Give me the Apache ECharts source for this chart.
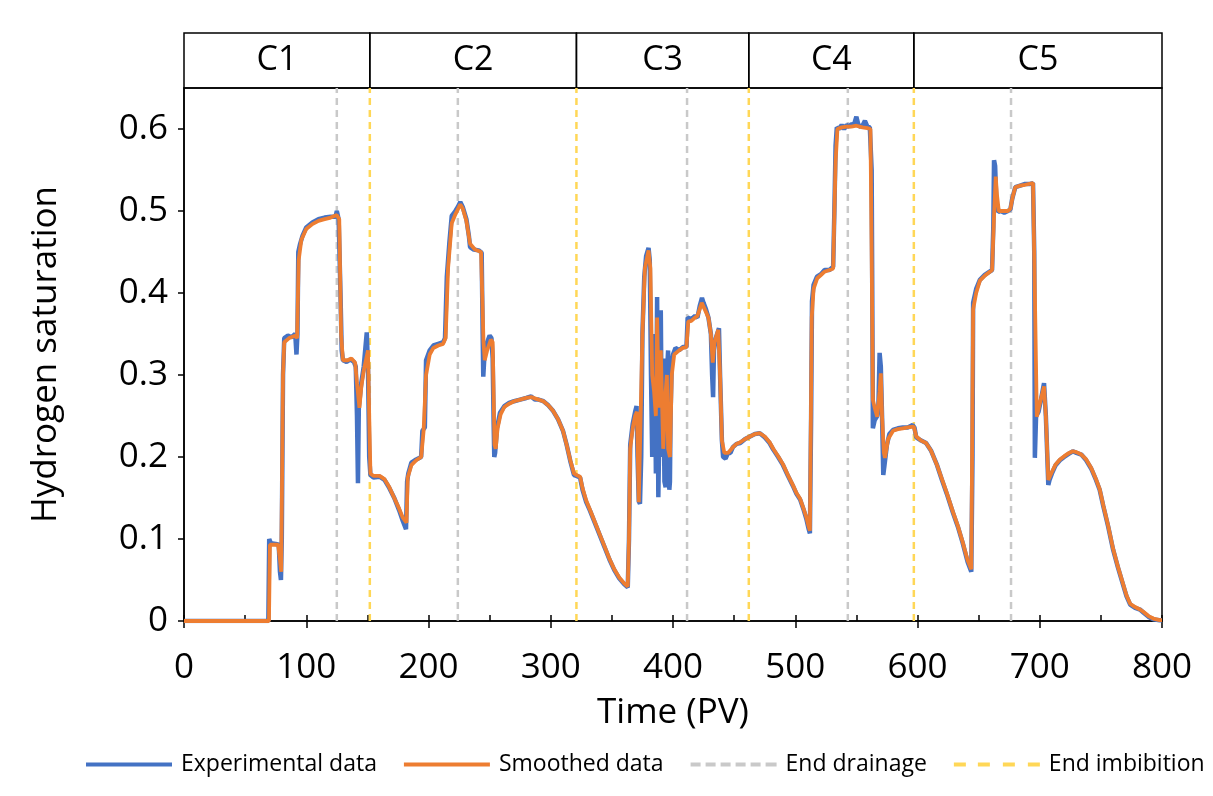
<!DOCTYPE html>
<html>
<head>
<meta charset="utf-8">
<script src="https://cdn.jsdelivr.net/npm/echarts@6/dist/echarts.min.js"></script>
<style>
html,body{margin:0;padding:0;background:#fff;}
#chart{width:1213px;height:796px;}
</style>
</head>
<body>
<div id="chart"></div>
<script>
// ---------- DATA ----------
const cycleNames = ['C1', 'C2', 'C3', 'C4', 'C5'];
const cycleBounds = [0, 152, 321, 462, 597, 800];
const endDrainage = [125, 224, 411.5, 543, 676.5];
const endImbibition = [152, 321, 462, 597];

// Experimental data: [time (PV), hydrogen saturation]
const experimental = [
  [0,0],[69,0],[69.7,0.10],[71,0.095],[75,0.094],[77.5,0.093],[78.5,0.06],[79.3,0.05],[80,0.1],[81,0.3],
  [82,0.345],[85,0.348],[88,0.346],[91,0.35],[92,0.325],[92.8,0.35],[93.5,0.45],[95,0.46],[97,0.47],[100,0.48],
  [105,0.486],[110,0.49],[115,0.492],[120,0.493],[124,0.493],[125,0.50],[126.5,0.49],[128,0.40],[129,0.33],[130,0.318],
  [133,0.316],[136,0.319],[139,0.316],[140.5,0.31],[141.5,0.25],[142.3,0.168],[143,0.26],[145,0.29],[147,0.31],[149.5,0.352],
  [150.5,0.31],[151.5,0.20],[152.5,0.178],[155,0.175],[160,0.176],[164,0.172],[168,0.162],[172,0.15],[176,0.135],[179,0.122],
  [181.6,0.112],[182.5,0.17],[183.5,0.18],[186,0.193],[190,0.197],[194,0.2],[195,0.232],[197,0.236],[198,0.318],[201,0.33],
  [204,0.336],[208,0.338],[212,0.34],[213.5,0.345],[215,0.42],[217,0.46],[219,0.494],[222,0.5],[224,0.505],[226,0.511],
  [228,0.505],[231,0.49],[233,0.47],[234,0.456],[237,0.453],[241,0.452],[243.5,0.449],[244.3,0.35],[244.8,0.298],[246,0.33],
  [248,0.34],[250,0.348],[251.5,0.345],[252.5,0.32],[253.3,0.24],[253.8,0.2],[254.5,0.205],[256,0.235],[258.5,0.254],[262,0.262],
  [266,0.266],[270,0.268],[275,0.27],[280,0.272],[284,0.274],[287,0.27],[290,0.27],[294,0.268],[298,0.263],[302,0.256],
  [306,0.246],[310,0.232],[313,0.215],[316,0.195],[319,0.178],[321,0.177],[324,0.175],[326,0.16],[329,0.145],[332,0.135],
  [336,0.12],[340,0.105],[344,0.09],[348,0.075],[352,0.062],[356,0.052],[360,0.045],[363,0.041],[364,0.1],[365,0.215],
  [367,0.24],[369,0.255],[370.2,0.262],[371,0.2],[372,0.146],[373,0.143],[374,0.2],[375,0.35],[376.5,0.42],[378,0.445],
  [380,0.455],[381,0.44],[382,0.3],[383,0.2],[384,0.28],[385,0.35],[386,0.18],[387,0.395],[388,0.151],[389,0.25],
  [390,0.379],[391,0.2],[392,0.32],[393,0.17],[394,0.163],[395,0.3],[396,0.33],[397,0.16],[397.5,0.17],[398,0.25],
  [399,0.315],[400,0.325],[402,0.333],[405,0.33],[408,0.334],[411,0.334],[412,0.37],[415,0.368],[418,0.372],[420,0.37],
  [422,0.385],[423.7,0.394],[425,0.388],[427,0.38],[429,0.37],[431,0.35],[432,0.3],[432.8,0.273],[433.5,0.33],[435,0.345],
  [437.6,0.357],[438.5,0.3],[440,0.22],[441,0.2],[443,0.198],[445,0.205],[447,0.205],[449,0.212],[452,0.216],[455,0.217],
  [459,0.222],[463,0.225],[467,0.228],[471,0.229],[475,0.224],[479,0.217],[482,0.209],[486,0.2],[490,0.19],[494,0.177],
  [498,0.165],[501,0.155],[504,0.148],[507,0.135],[509,0.125],[511,0.112],[512,0.107],[513,0.25],[513.7,0.39],[515,0.41],
  [517.8,0.42],[521,0.423],[524,0.428],[528,0.428],[531,0.432],[532,0.5],[533,0.58],[534,0.602],[536,0.6],[538,0.605],
  [540,0.6],[542,0.605],[544,0.603],[546,0.606],[548,0.605],[550,0.615],[552,0.603],[555,0.604],[557,0.61],[559,0.603],
  [561,0.602],[562.5,0.55],[563,0.4],[563.5,0.235],[565,0.245],[567,0.25],[568,0.26],[569,0.327],[570,0.31],[571,0.25],
  [572,0.178],[573,0.19],[575,0.215],[577,0.228],[580,0.233],[584,0.235],[588,0.236],[592,0.236],[596,0.239],[597.5,0.236],
  [599,0.224],[603,0.22],[607,0.217],[611,0.208],[616,0.19],[620,0.172],[624,0.155],[629,0.132],[633,0.115],[637,0.095],
  [641,0.072],[644,0.06],[645,0.2],[645.5,0.388],[648,0.405],[651,0.416],[655,0.422],[659,0.426],[661,0.428],[662,0.48],
  [662.6,0.562],[663.5,0.555],[664.5,0.51],[666,0.499],[668,0.5],[671,0.498],[674,0.5],[676,0.502],[677.5,0.515],[680,0.529],
  [684,0.531],[688,0.533],[692,0.533],[694.5,0.534],[695.5,0.45],[696,0.199],[697,0.25],[699,0.255],[701,0.27],[703.5,0.29],
  [705,0.25],[707,0.166],[708,0.172],[710,0.18],[713,0.19],[716.5,0.196],[720,0.2],[724,0.204],[727,0.207],[730,0.205],
  [734,0.203],[738,0.196],[742,0.186],[746,0.172],[749,0.16],[752,0.14],[756,0.115],[760,0.087],[764,0.065],[768,0.045],
  [771,0.03],[774,0.02],[778,0.016],[782,0.014],[785,0.01],[789,0.005],[793,0.002],[798,0.001],[800,0.001]
];

// Smoothed data: [time (PV), hydrogen saturation]
const smoothed = [
  [0,0],[69.5,0],[70.3,0.093],[77,0.093],[78.5,0.075],[79.5,0.06],[81,0.3],[82,0.34],[86,0.345],[91,0.348],
  [92.5,0.345],[93.8,0.44],[96,0.465],[100,0.478],[105,0.484],[110,0.488],[115,0.49],[120,0.492],[125,0.495],[127,0.49],
  [128.5,0.35],[130,0.318],[134,0.318],[137,0.32],[140,0.315],[141.5,0.29],[143.5,0.26],[145,0.285],[147,0.305],[150.5,0.33],
  [151.5,0.25],[152.5,0.18],[155,0.177],[160,0.177],[164,0.173],[168,0.163],[172,0.15],[176,0.137],[179,0.126],[182,0.12],
  [183,0.175],[186,0.19],[190,0.196],[194,0.2],[196,0.232],[198,0.3],[201,0.325],[204,0.333],[208,0.336],[212,0.338],
  [214,0.345],[216,0.43],[219,0.485],[222,0.496],[226,0.508],[228,0.503],[231,0.488],[234,0.46],[238,0.453],[243,0.45],
  [245,0.34],[246,0.318],[248,0.33],[251,0.343],[252.5,0.34],[254,0.215],[255,0.21],[256.5,0.235],[259,0.252],[262,0.261],
  [266,0.265],[270,0.268],[275,0.27],[280,0.272],[284,0.273],[290,0.27],[294,0.268],[298,0.263],[302,0.256],[306,0.246],
  [310,0.232],[313,0.215],[316,0.196],[319,0.18],[321,0.178],[324,0.176],[326,0.162],[329,0.147],[332,0.136],[336,0.121],
  [340,0.106],[344,0.091],[348,0.076],[352,0.063],[356,0.053],[360,0.046],[363,0.042],[364,0.1],[365,0.21],[367,0.235],
  [369,0.25],[370.5,0.255],[372,0.145],[373.5,0.145],[375,0.35],[377,0.43],[380,0.452],[381.5,0.43],[383,0.3],[384.5,0.28],
  [386,0.25],[387,0.37],[388.5,0.26],[390,0.33],[392,0.21],[394,0.28],[395,0.3],[396,0.21],[397.5,0.2],[399,0.3],
  [401,0.325],[405,0.33],[408,0.333],[411,0.334],[412.5,0.365],[415,0.366],[418,0.37],[420,0.372],[423.5,0.388],[426,0.38],
  [429,0.37],[431,0.35],[432.5,0.315],[434,0.34],[437,0.355],[438.5,0.3],[440,0.22],[442,0.205],[445,0.205],[449,0.212],
  [452,0.216],[455,0.218],[459,0.222],[463,0.225],[467,0.228],[471,0.229],[475,0.225],[479,0.218],[482,0.21],[486,0.201],
  [490,0.191],[494,0.178],[498,0.166],[501,0.156],[504,0.149],[507,0.136],[509,0.127],[511,0.115],[512,0.11],[513.5,0.37],
  [515,0.405],[518,0.418],[521,0.422],[524,0.426],[528,0.428],[531,0.43],[533,0.56],[534.5,0.6],[538,0.602],[542,0.603],
  [546,0.603],[550,0.604],[555,0.602],[559,0.601],[561.5,0.6],[562.5,0.45],[563.5,0.27],[565,0.26],[567,0.249],[569,0.28],
  [570,0.302],[571,0.25],[572.5,0.205],[573.4,0.199],[576,0.222],[580,0.232],[584,0.234],[588,0.235],[592,0.236],[597,0.237],
  [599,0.225],[603,0.22],[607,0.217],[611,0.208],[616,0.19],[620,0.173],[624,0.156],[629,0.133],[633,0.116],[637,0.096],
  [641,0.074],[644,0.063],[645.5,0.38],[648,0.4],[651,0.415],[655,0.421],[661,0.428],[662.5,0.49],[664,0.542],[665,0.52],
  [666.5,0.5],[670,0.5],[674,0.5],[676,0.503],[678,0.518],[680,0.529],[684,0.531],[688,0.532],[694.5,0.534],[696,0.4],
  [697.6,0.249],[700,0.265],[703.5,0.286],[705,0.25],[707,0.172],[710,0.182],[713,0.191],[716.5,0.197],[720,0.201],[724,0.205],
  [727,0.207],[730,0.206],[734,0.203],[738,0.197],[742,0.187],[746,0.173],[749,0.161],[752,0.141],[756,0.116],[760,0.088],
  [764,0.066],[768,0.046],[771,0.031],[774,0.021],[778,0.017],[782,0.014],[785,0.011],[789,0.006],[793,0.003],[798,0.001],[800,0.001]
];

// ---------- HELPERS ----------
function verticalLines(times) {
  const out = [];
  times.forEach(t => { out.push([t, 0]); out.push([t, 0.65]); out.push([t, '-']); });
  return out;
}
const FONT = 'Open Sans';
const cycleAreas = cycleNames.map((n, i) => [
  { xAxis: cycleBounds[i], yAxis: 0, name: n },
  { xAxis: cycleBounds[i + 1], yAxis: 1 }
]);

// legend icons (solid / dashed strokes)
const ICON_SOLID = 'path://M0,0H86V4H0Z';
const ICON_GRAY = 'path://M0,0h10v4h-10z M15,0h10v4h-10z M30,0h10v4h-10z M45,0h10v4h-10z M60,0h10v4h-10z M75,0h11v4h-11z';
const ICON_YELLOW = 'path://M0,0h12v4h-12z M24,0h12v4h-12z M49,0h12v4h-12z M74,0h12v4h-12z';

const chart = echarts.init(document.getElementById('chart'), null, { renderer: 'canvas' });
chart.setOption({
  animation: false,
  backgroundColor: '#fff',
  textStyle: { fontFamily: FONT, color: '#000' },
  grid: [
    { left: 184, right: 51, top: 88, bottom: 175, show: true, borderColor: '#000', borderWidth: 1.5, backgroundColor: 'transparent' },
    { left: 184, right: 51, top: 33, height: 55, show: false }
  ],
  xAxis: [
    {
      type: 'value', gridIndex: 0, min: 0, max: 800, interval: 100,
      name: 'Time (PV)', nameLocation: 'middle', nameGap: 75,
      nameTextStyle: { fontSize: 35, fontFamily: FONT, color: '#000' },
      axisLine: { show: true, onZero: false, lineStyle: { color: '#000', width: 1.5 } },
      axisTick: { show: true, inside: false, length: 7, lineStyle: { color: '#000', width: 1.5 } },
      axisLabel: { fontSize: 35, fontFamily: FONT, color: '#000', margin: 30 },
      splitLine: { show: false }
    },
    {
      type: 'value', gridIndex: 0, min: 0, max: 800, interval: 50, position: 'bottom',
      axisLine: { show: false },
      axisTick: { show: true, inside: true, length: 6, lineStyle: { color: '#000', width: 1.5 } },
      axisLabel: { show: false }, splitLine: { show: false }
    },
    {
      type: 'value', gridIndex: 1, min: 0, max: 800, show: false
    }
  ],
  yAxis: [
    {
      type: 'value', gridIndex: 0, min: 0, max: 0.65, interval: 0.1,
      name: 'Hydrogen saturation', nameLocation: 'middle', nameGap: 120, nameRotate: 90,
      nameTextStyle: { fontSize: 35, fontFamily: FONT, color: '#000' },
      axisLine: { show: true, lineStyle: { color: '#000', width: 1.5 } },
      axisTick: { show: true, inside: false, length: 6, lineStyle: { color: '#000', width: 1.5 } },
      axisLabel: { fontSize: 35, fontFamily: FONT, color: '#000', margin: 16, showMaxLabel: false },
      splitLine: { show: false }
    },
    { type: 'value', gridIndex: 1, min: 0, max: 1, show: false }
  ],
  legend: {
    bottom: 20, left: 86, width: 1400, padding: 0,
    data: [
      { name: 'Experimental data', icon: ICON_SOLID },
      { name: 'Smoothed data', icon: ICON_SOLID },
      { name: 'End drainage', icon: ICON_GRAY },
      { name: 'End imbibition', icon: ICON_YELLOW }
    ],
    itemWidth: 86, itemHeight: 4, itemGap: 27,
    textStyle: { fontSize: 23, fontFamily: FONT, color: '#000', padding: [0, 0, 0, 4] }
  },
  series: [
    {
      name: 'End drainage', type: 'line', xAxisIndex: 0, yAxisIndex: 0,
      data: verticalLines(endDrainage), symbol: 'none', connectNulls: false, silent: true,
      lineStyle: { color: '#C9C9C9', width: 2.5, type: [7, 5] }, itemStyle: { color: '#C9C9C9' }, z: 1
    },
    {
      name: 'End imbibition', type: 'line', xAxisIndex: 0, yAxisIndex: 0,
      data: verticalLines(endImbibition), symbol: 'none', connectNulls: false, silent: true,
      lineStyle: { color: '#FFD757', width: 2.5, type: [7, 5] }, itemStyle: { color: '#FFD757' }, z: 1
    },
    {
      name: 'Experimental data', type: 'line', xAxisIndex: 0, yAxisIndex: 0,
      data: experimental, symbol: 'none', smooth: false,
      lineStyle: { color: '#4472C4', width: 4.5 }, itemStyle: { color: '#4472C4' }, z: 2
    },
    {
      name: 'Smoothed data', type: 'line', xAxisIndex: 0, yAxisIndex: 0,
      data: smoothed, symbol: 'none', smooth: false,
      lineStyle: { color: '#ED7D31', width: 3.8 }, itemStyle: { color: '#ED7D31' }, z: 3
    },
    {
      name: 'cycles', type: 'line', xAxisIndex: 2, yAxisIndex: 1, data: [], silent: true,
      markArea: {
        silent: true,
        itemStyle: { color: 'rgba(0,0,0,0)', borderColor: '#000', borderWidth: 1.5 },
        label: { show: true, position: 'inside', fontSize: 34, fontFamily: FONT, color: '#000' },
        data: cycleAreas
      }
    }
  ]
});
</script>
</body>
</html>
